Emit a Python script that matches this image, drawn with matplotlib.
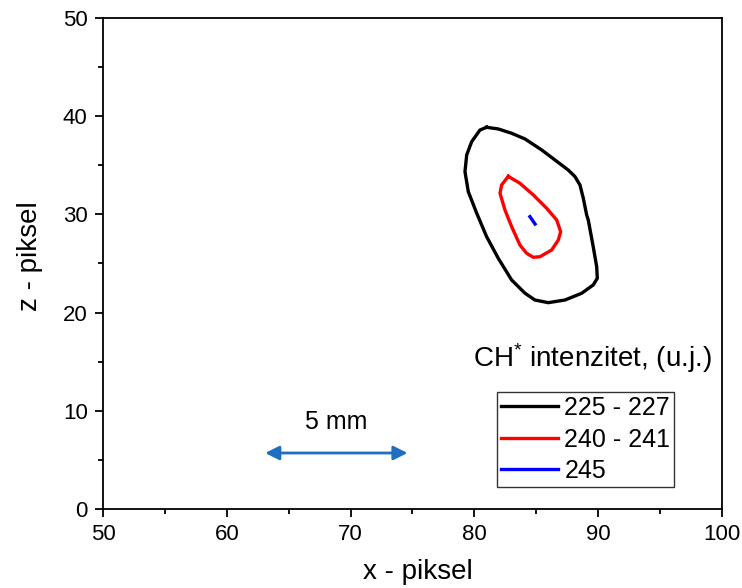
import matplotlib
matplotlib.use("Agg")
import matplotlib.pyplot as plt
from matplotlib.ticker import MultipleLocator

plt.rcParams['font.family'] = ['Liberation Sans', 'DejaVu Sans']
plt.rcParams['mathtext.fontset'] = 'custom'
plt.rcParams['mathtext.rm'] = 'Liberation Sans'
plt.rcParams['mathtext.it'] = 'Liberation Sans'

# contour 225 - 227 (black)
black_x = [80.99, 81.93, 83.01, 84.09, 85.44, 86.51, 87.58, 88.13, 88.53, 88.80, 89.07, 89.20,
           89.60, 89.88, 89.93, 89.60, 88.67, 87.32, 85.97, 84.89, 84.09, 83.01, 81.93, 80.99,
           80.19, 79.51, 79.24, 79.38, 79.78, 80.45, 80.99]
black_y = [38.87, 38.70, 38.26, 37.68, 36.56, 35.54, 34.52, 33.84, 32.99, 31.64, 29.94, 29.43,
           26.71, 24.67, 23.49, 22.81, 21.97, 21.28, 21.01, 21.28, 21.97, 23.32, 25.53, 27.73,
           30.11, 32.31, 34.35, 36.05, 37.40, 38.59, 38.87]
# contour 240 - 241 (red)
red_x = [82.74, 83.14, 83.68, 84.76, 85.84, 86.65, 86.97, 86.78, 86.24, 85.30, 84.76, 84.22,
         83.68, 83.01, 82.47, 82.07, 82.20, 82.74]
red_y = [33.87, 33.57, 33.17, 31.98, 30.62, 29.43, 28.24, 27.39, 26.37, 25.69, 25.63, 26.04,
         26.88, 28.75, 30.45, 32.15, 33.00, 33.87]
# contour 245 (blue)
blue_x = [84.49, 84.90]
blue_y = [29.77, 29.02]

labels = ['225 - 227', '240 - 241', '245']
colors = ['black', '#ff0000', '#0000ff']
legend_title = 'CH$^{*}$ intenzitet, (u.j.)'

arrow_x = [63.1, 74.6]
arrow_y = 5.7

fig = plt.figure(figsize=(7.42, 5.88), dpi=100)
ax = fig.add_axes([0.1388, 0.1344, 0.973 - 0.1388, 0.9694 - 0.1344])

ax.plot(black_x, black_y, color=colors[0], lw=2.4, solid_joinstyle='round', label=labels[0])
ax.plot(red_x, red_y, color=colors[1], lw=2.4, solid_joinstyle='round', label=labels[1])
ax.plot(blue_x, blue_y, color=colors[2], lw=2.4, label=labels[2])

ax.annotate('', xy=(arrow_x[0], arrow_y), xytext=(arrow_x[1], arrow_y),
            arrowprops=dict(arrowstyle='<|-|>,head_length=0.6,head_width=0.3', color='#1f6fc0',
                            lw=2, mutation_scale=14, shrinkA=0, shrinkB=0))
ax.text((arrow_x[0] + arrow_x[1]) / 2, 8.9, '5 mm', ha='center', va='center', fontsize=18)

ax.set_xlim(50, 100)
ax.set_ylim(0, 50)
ax.xaxis.set_major_locator(MultipleLocator(10))
ax.xaxis.set_minor_locator(MultipleLocator(5))
ax.yaxis.set_major_locator(MultipleLocator(10))
ax.yaxis.set_minor_locator(MultipleLocator(5))
ax.tick_params(which='major', direction='out', length=6, width=1.3, labelsize=16, pad=5)
ax.tick_params(which='minor', direction='out', length=3.5, width=1.3)
for s in ax.spines.values():
    s.set_linewidth(1.3)

ax.set_xlabel('x - piksel', fontsize=20, labelpad=10)
ax.set_ylabel('z - piksel', fontsize=20, labelpad=14)
ax.xaxis.label.set_x(0.508)
ax.yaxis.label.set_y(0.516)

ax.text(0.791, 0.307, legend_title, transform=ax.transAxes, ha='center', va='center',
        fontsize=20)

leg = ax.legend(loc='lower left', bbox_to_anchor=(0.6365, 0.0448), fontsize=18,
                frameon=True, fancybox=False, edgecolor='black', handlelength=2.3,
                handletextpad=0.25, labelspacing=0.3, borderpad=0.15, borderaxespad=0)
leg.get_frame().set_linewidth(1.0)

fig.savefig('out.png', dpi=100)
